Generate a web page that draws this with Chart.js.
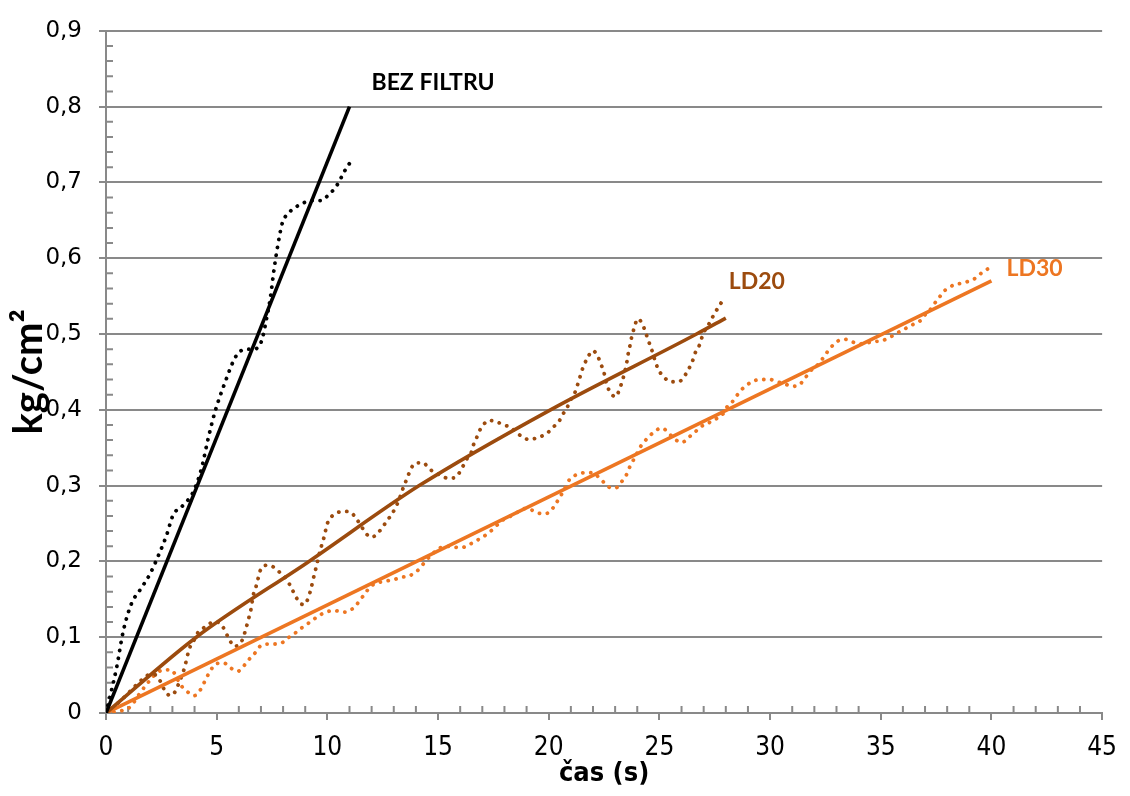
<!DOCTYPE html>
<html>
<head>
<meta charset="utf-8">
<script src="https://cdn.jsdelivr.net/npm/chart.js@4/dist/chart.umd.min.js"></script>
<style>
  html, body { margin: 0; padding: 0; background: #ffffff; }
  #wrap { width: 1130px; height: 796px; }
</style>
</head>
<body>
<div id="wrap"><canvas id="chart" width="1130" height="796"></canvas></div>
<script>
// Measured pressure (kg/cm²) against time (s) for each filter setup
const bezFiltruTime = [0, 0.25, 0.48, 0.78, 1.16, 1.53, 1.98, 2.4, 2.73, 3.03, 3.48, 3.93, 4.3, 4.6, 4.9, 5.35, 5.88, 6.33, 6.62, 6.92, 7.07, 7.23, 7.41, 7.6, 7.75, 7.97, 8.2, 8.72, 9.32, 9.7, 10.0, 10.45, 10.78, 11.0];
const bezFiltruValue = [0, 0.03, 0.06, 0.108, 0.145, 0.162, 0.183, 0.21, 0.234, 0.261, 0.274, 0.291, 0.321, 0.36, 0.395, 0.434, 0.471, 0.48, 0.48, 0.484, 0.495, 0.517, 0.545, 0.587, 0.615, 0.647, 0.658, 0.67, 0.676, 0.676, 0.682, 0.697, 0.715, 0.725];

const ld20Time = [0, 0.35, 1.0, 1.4, 1.75, 2.0, 2.25, 2.45, 2.65, 2.9, 3.1, 3.3, 3.55, 3.7, 3.85, 4.0, 4.15, 4.45, 4.75, 5.0, 5.25, 5.43, 5.61, 5.77, 5.95, 6.15, 6.29, 6.42, 6.55, 6.65, 6.78, 7.0, 7.3, 7.6, 7.9, 8.17, 8.39, 8.57, 8.72, 8.95, 9.14, 9.26, 9.39, 9.5, 9.62, 9.74, 9.85, 10.0, 10.22, 10.52, 10.85, 11.05, 11.27, 11.5, 11.65, 11.84, 12.02, 12.29, 12.5, 12.69, 12.89, 13.04, 13.22, 13.4, 13.55, 13.7, 13.85, 14.04, 14.34, 14.57, 14.87, 15.17, 15.39, 15.69, 15.92, 16.07, 16.22, 16.37, 16.49, 16.59, 16.74, 16.85, 17.04, 17.3, 17.64, 17.99, 18.31, 18.58, 18.84, 19.06, 19.37, 19.66, 19.96, 20.27, 20.49, 20.64, 20.83, 21.01, 21.16, 21.28, 21.39, 21.49, 21.61, 21.76, 21.99, 22.21, 22.36, 22.48, 22.63, 22.78, 22.99, 23.19, 23.29, 23.41, 23.53, 23.59, 23.68, 23.74, 23.83, 23.91, 24.01, 24.24, 24.34, 24.46, 24.58, 24.69, 24.79, 24.91, 25.06, 25.24, 25.51, 25.84, 26.03, 26.21, 26.38, 26.53, 26.63, 26.79, 26.89, 27.01, 27.16, 27.34, 27.49, 27.68, 27.9];
const ld20Value = [0, 0.008, 0.026, 0.038, 0.047, 0.051, 0.05, 0.042, 0.03, 0.023, 0.027, 0.04, 0.06, 0.078, 0.091, 0.097, 0.106, 0.113, 0.119, 0.12, 0.115, 0.105, 0.095, 0.088, 0.089, 0.096, 0.108, 0.122, 0.137, 0.155, 0.167, 0.19, 0.195, 0.192, 0.184, 0.176, 0.164, 0.154, 0.146, 0.143, 0.152, 0.164, 0.18, 0.193, 0.208, 0.221, 0.232, 0.25, 0.26, 0.265, 0.266, 0.265, 0.258, 0.248, 0.241, 0.234, 0.232, 0.238, 0.245, 0.254, 0.261, 0.269, 0.28, 0.295, 0.306, 0.317, 0.326, 0.33, 0.33, 0.323, 0.317, 0.313, 0.31, 0.31, 0.315, 0.323, 0.33, 0.339, 0.343, 0.353, 0.363, 0.371, 0.38, 0.386, 0.384, 0.38, 0.376, 0.369, 0.364, 0.361, 0.362, 0.365, 0.37, 0.379, 0.386, 0.394, 0.403, 0.414, 0.421, 0.431, 0.441, 0.451, 0.46, 0.469, 0.478, 0.471, 0.46, 0.451, 0.432, 0.424, 0.417, 0.426, 0.435, 0.447, 0.463, 0.474, 0.486, 0.495, 0.505, 0.513, 0.52, 0.513, 0.505, 0.495, 0.485, 0.476, 0.466, 0.456, 0.448, 0.442, 0.437, 0.437, 0.44, 0.448, 0.457, 0.467, 0.476, 0.484, 0.493, 0.502, 0.51, 0.518, 0.528, 0.535, 0.548];

const ld30Time = [0, 0.7, 1.0, 1.23, 1.53, 1.98, 2.35, 2.65, 2.95, 3.1, 3.33, 3.55, 3.78, 4.0, 4.23, 4.45, 4.68, 4.98, 5.32, 5.65, 5.95, 6.25, 6.47, 6.7, 7.0, 7.34, 7.67, 7.97, 8.27, 8.57, 8.87, 9.17, 9.55, 9.92, 10.34, 10.7, 11.0, 11.27, 11.5, 11.69, 11.95, 12.32, 12.65, 13.0, 13.34, 13.7, 14.0, 14.24, 14.42, 14.72, 14.99, 15.32, 15.69, 16.04, 16.34, 16.64, 16.96, 17.3, 17.57, 17.84, 18.17, 18.6, 18.99, 19.37, 19.66, 20.0, 20.27, 20.53, 20.74, 20.94, 21.16, 21.64, 21.99, 22.29, 22.54, 22.81, 23.03, 23.26, 23.49, 23.68, 23.89, 24.16, 24.38, 24.61, 24.91, 25.13, 25.33, 25.6, 25.81, 26.03, 26.33, 26.56, 26.79, 27.01, 27.31, 27.61, 27.91, 28.06, 28.28, 28.48, 28.66, 28.88, 29.18, 29.56, 29.98, 30.31, 30.68, 30.98, 31.28, 31.58, 31.8, 31.98, 32.22, 32.43, 32.63, 32.86, 33.08, 33.38, 33.68, 34.02, 34.35, 34.65, 35.03, 35.37, 35.67, 35.97, 36.3, 36.6, 36.9, 37.02, 37.23, 37.42, 37.62, 37.8, 38.02, 38.32, 38.67, 39.0, 39.3, 39.57, 39.9];
const ld30Value = [0, 0.003, 0.006, 0.013, 0.026, 0.043, 0.054, 0.057, 0.057, 0.052, 0.039, 0.031, 0.026, 0.023, 0.029, 0.041, 0.054, 0.065, 0.066, 0.059, 0.055, 0.063, 0.071, 0.078, 0.089, 0.091, 0.091, 0.093, 0.1, 0.106, 0.113, 0.119, 0.127, 0.133, 0.135, 0.133, 0.135, 0.141, 0.15, 0.157, 0.167, 0.172, 0.174, 0.176, 0.179, 0.181, 0.186, 0.193, 0.2, 0.209, 0.216, 0.22, 0.219, 0.218, 0.221, 0.226, 0.231, 0.238, 0.245, 0.253, 0.258, 0.265, 0.27, 0.266, 0.263, 0.264, 0.274, 0.286, 0.297, 0.308, 0.313, 0.317, 0.317, 0.31, 0.303, 0.297, 0.297, 0.304, 0.313, 0.326, 0.337, 0.352, 0.36, 0.367, 0.374, 0.376, 0.372, 0.364, 0.359, 0.357, 0.364, 0.369, 0.376, 0.38, 0.384, 0.389, 0.396, 0.404, 0.41, 0.418, 0.425, 0.431, 0.437, 0.44, 0.44, 0.437, 0.434, 0.431, 0.432, 0.442, 0.45, 0.456, 0.461, 0.47, 0.478, 0.486, 0.491, 0.493, 0.49, 0.487, 0.488, 0.49, 0.491, 0.495, 0.5, 0.505, 0.51, 0.515, 0.52, 0.526, 0.532, 0.54, 0.547, 0.555, 0.56, 0.565, 0.567, 0.57, 0.574, 0.581, 0.587];

// Trend lines
const bezFiltruTrendTime = [0, 11];
const bezFiltruTrendValue = [0, 0.8];
const ld20TrendTime = [0, 4.08, 9.17, 14.15, 20.08, 26.68, 28];
const ld20TrendValue = [0, 0.1, 0.2, 0.3, 0.4, 0.5, 0.521];
const ld30TrendTime = [0, 40];
const ld30TrendValue = [0, 0.57];

// Axis ticks
const timeTicks = [0, 5, 10, 15, 20, 25, 30, 35, 40, 45];
const pressureTicks = [0, 0.1, 0.2, 0.3, 0.4, 0.5, 0.6, 0.7, 0.8, 0.9];

const BLACK = '#000000';
const BROWN = '#9C4B0E';
const ORANGE = '#ED7622';
const AXIS = '#898989';

const zip = (xs, ys) => xs.map((x, i) => ({ x, y: ys[i] }));

const solid = (xs, ys, color, tag) => ({
  data: zip(xs, ys),
  showLine: true,
  borderColor: color,
  borderWidth: 3.6,
  pointRadius: 0,
  cubicInterpolationMode: 'monotone',
  fill: false,
  tag
});

const dotted = (xs, ys, color) => ({
  data: zip(xs, ys),
  showLine: true,
  borderColor: color,
  borderWidth: 3.8,
  borderDash: [0.1, 7.9],
  borderCapStyle: 'round',
  pointRadius: 0,
  cubicInterpolationMode: 'monotone',
  fill: false
});

// Excel-style minor tick marks, drawn inside the plot
const minorTicks = {
  id: 'minorTicks',
  beforeDatasetsDraw(chart) {
    const { ctx, scales: { x, y } } = chart;
    ctx.save();
    ctx.strokeStyle = AXIS;
    ctx.lineWidth = 2;
    ctx.beginPath();
    for (let s = 0; s <= 45; s++) {
      if (s % 5 === 0) continue;
      const px = x.getPixelForValue(s);
      ctx.moveTo(px, y.bottom);
      ctx.lineTo(px, y.bottom - 7);
    }
    for (let i = 0; i <= 45; i++) {
      if (i % 5 === 0) continue;
      const py = y.getPixelForValue(i * 0.02);
      ctx.moveTo(x.left, py);
      ctx.lineTo(x.left + 7, py);
    }
    ctx.stroke();
    ctx.restore();
  }
};

// Series names written next to the end of each trend line
const seriesTags = {
  id: 'seriesTags',
  afterDatasetsDraw(chart) {
    const { ctx } = chart;
    ctx.save();
    ctx.textAlign = 'left';
    ctx.textBaseline = 'middle';
    chart.data.datasets.forEach((ds, i) => {
      if (!ds.tag) return;
      const pts = chart.getDatasetMeta(i).data;
      const end = pts[pts.length - 1];
      ctx.font = 'bold 23px Lato, "Open Sans", sans-serif';
      ctx.fillStyle = ds.borderColor;
      ctx.fillText(ds.tag.text, end.x + ds.tag.dx, end.y + ds.tag.dy);
    });
    ctx.restore();
  }
};

new Chart(document.getElementById('chart'), {
  type: 'scatter',
  data: {
    datasets: [
      solid(bezFiltruTrendTime, bezFiltruTrendValue, BLACK, { text: 'BEZ FILTRU', dx: 22, dy: -24 }),
      solid(ld20TrendTime, ld20TrendValue, BROWN, { text: 'LD20', dx: 3, dy: -37 }),
      solid(ld30TrendTime, ld30TrendValue, ORANGE, { text: 'LD30', dx: 15, dy: -12 }),
      dotted(bezFiltruTime, bezFiltruValue, BLACK),
      dotted(ld20Time, ld20Value, BROWN),
      dotted(ld30Time, ld30Value, ORANGE)
    ]
  },
  options: {
    responsive: false,
    animation: false,
    layout: { padding: { top: 23, right: 23, left: 0, bottom: 0 } },
    plugins: { legend: { display: false }, tooltip: { enabled: false } },
    scales: {
      x: {
        type: 'linear',
        min: timeTicks[0],
        max: timeTicks[timeTicks.length - 1],
        afterBuildTicks: (s) => { s.ticks = timeTicks.map(v => ({ value: v })); },
        afterFit: (s) => { s.height = 83; },
        ticks: {
          color: '#000000',
          padding: 13,
          maxRotation: 0,
          font: { family: '"Liberation Sans Narrow", "DejaVu Sans Condensed", sans-serif', size: 26 },
          callback: (v) => String(v)
        },
        grid: { drawOnChartArea: false, drawTicks: true, tickLength: 7, color: AXIS, lineWidth: 2 },
        border: { color: AXIS, width: 2 },
        title: {
          display: true,
          text: 'čas (s)',
          color: '#000000',
          font: { family: '"Liberation Sans Narrow", "DejaVu Sans Condensed", sans-serif', size: 27, weight: 'bold' },
          padding: { top: 0, bottom: 6 }
        }
      },
      y: {
        type: 'linear',
        min: pressureTicks[0],
        max: pressureTicks[pressureTicks.length - 1],
        afterBuildTicks: (s) => { s.ticks = pressureTicks.map(v => ({ value: v })); },
        afterFit: (s) => { s.width = 106; },
        ticks: {
          color: '#000000',
          padding: 17,
          font: { family: '"DejaVu Sans", sans-serif', size: 23 },
          callback: (v) => (v === 0 ? '0' : v.toFixed(1).replace('.', ','))
        },
        grid: { drawOnChartArea: true, drawTicks: true, tickLength: 7, color: AXIS, lineWidth: 2 },
        border: { color: AXIS, width: 2 },
        title: {
          display: true,
          text: 'kg/cm²',
          color: '#000000',
          font: { family: 'Lato, "Open Sans", sans-serif', size: 40, weight: 'bold' },
          padding: { top: 5, bottom: 0 }
        }
      }
    }
  },
  plugins: [minorTicks, seriesTags]
});
</script>
</body>
</html>
